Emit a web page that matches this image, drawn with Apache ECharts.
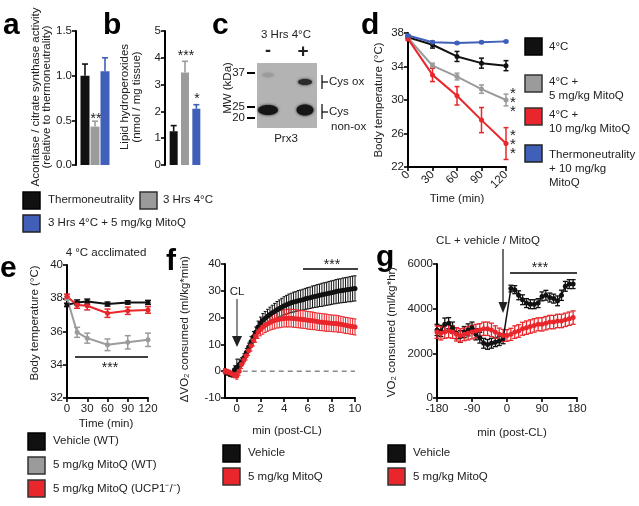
<!DOCTYPE html>
<html>
<head>
<meta charset="utf-8">
<script src="https://cdn.jsdelivr.net/npm/echarts@6/dist/echarts.min.js"></script>
<style>html,body{margin:0;padding:0;background:#fff}#c{width:639px;height:506px}</style>
</head>
<body>
<div id="c"></div>
<script>
// ---------- DATA ----------
// panel a
const aCats = ['Thermoneutrality', '3 Hrs 4°C', '3 Hrs 4°C + 5 mg/kg MitoQ'];
const aValues = [1.0, 0.43, 1.05];
const aErr = [0.13, 0.06, 0.15];
const aTicks = [0, 0.5, 1.0, 1.5];
// panel b
const bValues = [1.26, 3.45, 2.1];
const bErr = [0.21, 0.42, 0.15];
// panel d
const dTime = [0, 30, 60, 90, 120];
const d4C = [37.5, 36.6, 35.2, 34.4, 34.1];
const d4CErr = [0.2, 0.4, 0.6, 0.6, 0.6];
const d5Mito = [37.4, 34.1, 32.8, 31.3, 30.0];
const d5MitoErr = [0.2, 0.3, 0.4, 0.5, 0.7];
const d10Mito = [37.3, 33.0, 30.5, 27.6, 24.8];
const d10MitoErr = [0.2, 0.8, 1.1, 1.5, 1.9];
const dTN = [37.7, 36.9, 36.8, 36.9, 37.0];
const dTNErr = [0.1, 0.1, 0.1, 0.1, 0.1];
// panel e
const eTime = [0, 15, 30, 60, 90, 120];
const eVeh = [37.6, 37.75, 37.8, 37.65, 37.75, 37.75];
const eVehErr = [0.1, 0.15, 0.15, 0.12, 0.1, 0.12];
const eMitoWT = [38.0, 35.95, 35.6, 35.2, 35.35, 35.5];
const eMitoWTErr = [0.1, 0.3, 0.3, 0.35, 0.4, 0.4];
const eMitoKO = [38.1, 37.6, 37.55, 37.1, 37.25, 37.3];
const eMitoKOErr = [0.15, 0.2, 0.25, 0.25, 0.22, 0.2];
// panel f
const fTime = [-1.0,-0.8,-0.6,-0.4,-0.2,0.0,0.2,0.4,0.6,0.8,1.0,1.2,1.4,1.6,1.8,2.0,2.2,2.4,2.6,2.8,3.0,3.2,3.4,3.6,3.8,4.0,4.2,4.4,4.6,4.8,5.0,5.2,5.4,5.6,5.8,6.0,6.2,6.4,6.6,6.8,7.0,7.2,7.4,7.6,7.8,8.0,8.2,8.4,8.6,8.8,9.0,9.2,9.4,9.6,9.8,10.0];
const fVeh = [0.0,-0.5,-1.0,-1.2,0.5,1.5,2.5,3.5,5.0,7.0,9.0,11.0,12.8,14.5,16.5,18.0,19.0,19.8,20.5,21.2,21.8,22.3,22.9,23.4,23.9,24.4,24.8,25.2,25.5,25.8,26.0,26.3,26.5,26.7,27.0,27.2,27.4,27.7,27.9,28.1,28.3,28.5,28.7,28.9,29.1,29.3,29.5,29.7,29.9,30.0,30.2,30.3,30.5,30.6,30.8,30.9];
const fVehErr = [1.0,1.0,1.0,1.0,1.5,3.0,2.0,1.5,1.5,1.5,1.5,2.0,2.0,2.0,2.2,2.2,2.5,2.5,2.6,2.7,2.8,3.0,3.1,3.2,3.3,3.4,3.5,3.6,3.6,3.7,3.7,3.8,3.8,3.9,3.9,4.0,4.0,4.1,4.1,4.2,4.2,4.3,4.3,4.3,4.4,4.4,4.4,4.5,4.5,4.5,4.6,4.6,4.6,4.7,4.7,4.7];
const fMito = [0.0,-0.3,-0.6,-1.0,-1.5,-1.8,0.0,2.5,4.2,5.8,7.6,9.5,11.5,13.0,14.5,15.6,16.4,17.1,17.7,18.2,18.6,18.9,19.2,19.4,19.6,19.7,19.8,19.8,19.8,19.7,19.6,19.5,19.4,19.3,19.2,19.0,18.9,18.8,18.7,18.5,18.4,18.3,18.2,18.1,18.0,17.9,17.8,17.8,17.6,17.5,17.3,17.1,17.0,16.8,16.7,16.5];
const fMitoErr = [1.0,1.0,1.0,1.0,1.0,1.2,1.5,1.5,1.5,1.6,1.7,2.0,2.1,2.2,2.3,2.4,2.6,2.7,2.8,2.9,3.0,3.1,3.1,3.2,3.2,3.2,3.3,3.3,3.3,3.3,3.3,3.3,3.3,3.3,3.3,3.3,3.3,3.3,3.2,3.2,3.2,3.2,3.2,3.2,3.1,3.1,3.1,3.1,3.1,3.0,3.0,3.0,3.0,3.0,3.0,3.0];
const fZeroLine = [[0.5, 0], [10, 0]];
const fTickValues = [0, 2, 4, 6, 8, 10];
// panel g
const gTimeVeh = [-180,-170,-160,-150,-140,-130,-120,-110,-100,-90,-80,-70,-60,-50,-40,-30,-20,-10,10,20,30,40,50,60,70,80,90,100,110,120,130,140,150,160,170];
const gVeh = [3050,3000,3300,3350,3150,2900,2750,2950,3050,3150,2850,2700,2450,2400,2450,2500,2550,2650,4900,4850,4600,4400,4250,4200,4200,4250,4550,4600,4500,4450,4350,4600,5000,5100,5100];
const gVehErr = [250,250,280,250,250,250,260,250,270,250,250,240,220,220,220,200,200,220,150,180,200,220,200,200,200,200,200,220,200,200,220,230,220,200,200];
const gTimeMito = [-180,-170,-160,-150,-140,-130,-120,-110,-100,-90,-80,-70,-60,-50,-40,-30,-20,-10,0,10,20,30,40,50,60,70,80,90,100,110,120,130,140,150,160,170];
const gMito = [2950,2900,2950,3000,2950,2850,2800,2850,2900,2950,3000,3050,3100,3100,3050,2950,2850,2800,2800,2850,2950,3000,3100,3150,3200,3250,3300,3300,3350,3400,3400,3450,3450,3500,3550,3600];
const gMitoErr = [280,300,280,300,280,300,300,280,300,300,300,280,300,300,300,280,280,270,260,270,280,280,290,300,300,300,290,300,300,300,300,300,300,300,300,300];

// ---------- STYLE ----------
const FONT = '"Liberation Sans", Arial, Helvetica, sans-serif';
const BLACK = '#111111', GRAY = '#9b9b9b', RED = '#e8262b', BLUE = '#3f5fb8';
const TXT = '#222';

function errRender(cap, color, lw) {
  return function (params, api) {
    const x = api.value(0), lo = api.value(1), hi = api.value(2);
    const p1 = api.coord([x, lo]), p2 = api.coord([x, hi]);
    const st = { stroke: color, lineWidth: lw };
    return { type: 'group', children: [
      { type: 'line', shape: { x1: p1[0], y1: p1[1], x2: p2[0], y2: p2[1] }, style: st },
      { type: 'line', shape: { x1: p1[0] - cap / 2, y1: p1[1], x2: p1[0] + cap / 2, y2: p1[1] }, style: st },
      { type: 'line', shape: { x1: p2[0] - cap / 2, y1: p2[1], x2: p2[0] + cap / 2, y2: p2[1] }, style: st }
    ]};
  };
}
function errSeries(idx, xs, ys, es, color, cap, lw, z) {
  return { type: 'custom', xAxisIndex: idx, yAxisIndex: idx, z: z || 3, clip: false,
    renderItem: errRender(cap, color, lw || 1.3),
    encode: { x: 0, y: [1, 2] },
    data: xs.map((x, i) => [x, ys[i] - es[i], ys[i] + es[i]]) };
}
function barErr(idx, vals, errs, colors) {
  return { type: 'custom', xAxisIndex: idx, yAxisIndex: idx, z: 1, clip: false,
    renderItem: function (params, api) {
      const i = api.value(0), lo = api.value(1), hi = api.value(2);
      const p1 = api.coord([i, lo]), p2 = api.coord([i, hi]);
      const st = { stroke: colors[params.dataIndex], lineWidth: 1.6 };
      return { type: 'group', children: [
        { type: 'line', shape: { x1: p1[0], y1: p1[1], x2: p2[0], y2: p2[1] }, style: st },
        { type: 'line', shape: { x1: p2[0] - 3, y1: p2[1], x2: p2[0] + 3, y2: p2[1] }, style: st }
      ]};
    },
    encode: { x: 0, y: [1, 2] },
    data: vals.map((v, i) => [i, v, v + errs[i]]) };
}
function lineSeries(idx, xs, ys, color, size, lw) {
  return { type: 'line', xAxisIndex: idx, yAxisIndex: idx, z: 4,
    data: xs.map((x, i) => [x, ys[i]]), symbol: 'circle', symbolSize: size,
    itemStyle: { color: color }, lineStyle: { color: color, width: lw }, clip: false };
}
const axLine = { show: true, onZero: false, lineStyle: { color: '#000', width: 2 } };
const axTick = { show: true, length: 4, lineStyle: { color: '#000', width: 1.6 } };
const axLab = { color: TXT, fontSize: 11.5, fontFamily: FONT, margin: 4 };
function yAx(idx, min, max, interval, extra) {
  return Object.assign({ type: 'value', gridIndex: idx, min: min, max: max, interval: interval,
    axisLine: axLine, axisTick: axTick, axisLabel: Object.assign({}, axLab), splitLine: { show: false } }, extra || {});
}
function xAx(idx, min, max, interval, extra) {
  return Object.assign({ type: 'value', gridIndex: idx, min: min, max: max, interval: interval,
    axisLine: axLine, axisTick: axTick, axisLabel: Object.assign({}, axLab, { margin: 5 }), splitLine: { show: false } }, extra || {});
}

// ---------- GRAPHICS HELPERS ----------
function T(x, y, text, o) {
  o = o || {};
  return { type: 'text', x: x, y: y, rotation: o.rot || 0, z: 10,
    style: { text: text, fill: o.fill || TXT, fontSize: o.size || 11.5, fontWeight: o.weight || 'normal',
      fontFamily: FONT, align: o.align || 'left', verticalAlign: o.va || 'middle', lineHeight: o.lh || 14 } };
}
function SQ(x, y, fill, stroke) {
  return { type: 'rect', shape: { x: x, y: y, width: 17, height: 17 }, z: 10,
    style: { fill: fill, stroke: stroke || '#222', lineWidth: 1.5 } };
}
function L(x1, y1, x2, y2, color, w) {
  return { type: 'line', shape: { x1: x1, y1: y1, x2: x2, y2: y2 }, z: 10, style: { stroke: color || '#000', lineWidth: w || 1.5 } };
}
function TRI(pts, color) {
  return { type: 'polygon', shape: { points: pts }, z: 10, style: { fill: color || '#000' } };
}
function ELL(cx, cy, rx, ry, fill, blur) {
  return { type: 'ellipse', shape: { cx: cx, cy: cy, rx: rx, ry: ry }, z: 11,
    style: { fill: fill, shadowBlur: blur || 0, shadowColor: fill } };
}
const LET = { size: 30, weight: 'bold', fill: '#000', va: 'bottom' };
const ROT = Math.PI / 2;

const graphics = [
  // panel letters
  T(3, 33, 'a', LET), T(103, 33, 'b', LET), T(212, 33, 'c', LET), T(361, 33, 'd', LET),
  T(0, 276, 'e', LET), T(166, 269, 'f', LET), T(376, 265, 'g', LET),
  // a / b axis titles
  T(41, 97, 'Aconitase / citrate synthase activity\n(relative to thermoneutrality)', { rot: ROT, align: 'center', size: 11.5, lh: 11 }),
  T(131, 97, 'Lipid hydroperoxides\n(nmol / mg tissue)', { rot: ROT, align: 'center', size: 11.5, lh: 12 }),
  T(96, 119, '**', { align: 'center', size: 14 }),
  T(186, 56, '***', { align: 'center', size: 14 }),
  T(197, 99, '*', { align: 'center', size: 14 }),
  // a/b legend
  SQ(23, 192, BLACK, '#000'), T(48, 200, 'Thermoneutrality'),
  SQ(140, 192, GRAY, '#333'), T(163, 200, '3 Hrs 4°C'),
  SQ(23, 215, BLUE, '#222'), T(48, 223, '3 Hrs 4°C + 5 mg/kg MitoQ'),
  // panel c blot
  T(286, 35, '3 Hrs 4°C', { align: 'center', size: 11.5 }),
  T(268, 51, '-', { align: 'center', size: 18, weight: 'bold' }),
  T(303, 52, '+', { align: 'center', size: 19, weight: 'bold' }),
  { type: 'rect', shape: { x: 257, y: 63, width: 60, height: 65 }, z: 10, style: { fill: '#b3b3b3' } },
  ELL(268, 75, 6, 2.2, '#9c9c9c', 3),
  ELL(305, 82, 7, 3, '#2b2b2b', 3),
  ELL(268, 110, 10, 5, '#151515', 3),
  ELL(305, 110, 8.5, 5.5, '#151515', 3),
  L(247, 73, 255, 73, '#000', 2), L(247, 107, 255, 107, '#000', 2), L(247, 118, 255, 118, '#000', 2),
  T(245, 73, '37', { align: 'right' }), T(245, 107, '25', { align: 'right' }), T(245, 118, '20', { align: 'right' }),
  T(228, 88, 'MW (kDa)', { rot: ROT, align: 'center' }),
  L(322, 75, 322, 89, '#000', 1.2), L(322, 82, 328, 82, '#000', 1.2), T(329, 82, 'Cys ox'),
  L(322, 104, 322, 119, '#000', 1.2), L(322, 112, 328, 112, '#000', 1.2), T(329, 112, 'Cys'), T(331, 127, 'non-ox'),
  T(286, 139, 'Prx3', { align: 'center' }),
  // panel d
  T(379, 100, 'Body temperature (°C)', { rot: ROT, align: 'center' }),
  T(457, 199, 'Time (min)', { align: 'center' }),
  T(513, 103, '*\n*\n*', { align: 'center', size: 15, lh: 9 }),
  T(513, 145, '*\n*\n*', { align: 'center', size: 15, lh: 9 }),
  SQ(525, 38, BLACK, '#000'), T(549, 47, '4°C'),
  SQ(525, 75, GRAY, '#333'), T(549, 89, '4°C +\n5 mg/kg MitoQ'),
  SQ(525, 108, RED, '#333'), T(549, 122, '4°C +\n10 mg/kg MitoQ'),
  SQ(525, 145, BLUE, '#222'), T(549, 169, 'Thermoneutrality\n+ 10 mg/kg\nMitoQ'),
  // panel e
  T(106, 253, '4 °C acclimated', { align: 'center' }),
  T(35, 323, 'Body temperature (°C)', { rot: ROT, align: 'center' }),
  T(106, 424, 'Time (min)', { align: 'center' }),
  L(75, 357, 148, 357, '#000', 1.5),
  T(110, 368, '***', { align: 'center', size: 14 }),
  SQ(28, 433, BLACK, '#000'), T(53, 441, 'Vehicle (WT)'),
  SQ(28, 457, GRAY, '#333'), T(53, 465, '5 mg/kg MitoQ (WT)'),
  SQ(28, 480, RED, '#333'), T(53, 489, '5 mg/kg MitoQ (UCP1⁻/⁻)'),
  // panel f
  T(185, 329, 'ΔVO₂ consumed (ml/kg*min)', { rot: ROT, align: 'center' }),
  T(287, 431, 'min (post-CL)', { align: 'center' }),
  T(237, 292, 'CL', { align: 'center' }),
  L(237, 299, 237, 338, '#666', 1.5),
  TRI([[232, 336], [242, 336], [237, 347]], '#222'),
  L(303, 269, 358, 269, '#000', 1.5),
  T(332, 265, '***', { align: 'center', size: 14 }),
  SQ(223, 445, BLACK, '#000'), T(248, 453, 'Vehicle'),
  SQ(223, 468, RED, '#333'), T(248, 477, '5 mg/kg MitoQ'),
  // panel g
  T(488, 241, 'CL + vehicle / MitoQ', { align: 'center' }),
  T(392, 332, 'VO₂ consumed (ml/kg*hr)', { rot: ROT, align: 'center' }),
  T(512, 433, 'min (post-CL)', { align: 'center' }),
  L(503, 249, 503, 305, '#222', 1.3),
  TRI([[498.5, 302], [507.5, 302], [503, 313]], '#222'),
  L(510, 273, 577, 273, '#000', 1.5),
  T(540, 268, '***', { align: 'center', size: 14 }),
  SQ(388, 445, BLACK, '#000'), T(413, 453, 'Vehicle'),
  SQ(388, 468, RED, '#333'), T(413, 477, '5 mg/kg MitoQ')
];

// ---------- OPTION ----------
const option = {
  animation: false,
  backgroundColor: '#fff',
  textStyle: { fontFamily: FONT },
  grid: [
    { left: 80, top: 31, width: 30, height: 134 },
    { left: 168, top: 31, width: 34, height: 134 },
    { left: 408, top: 33, width: 98, height: 134 },
    { left: 67, top: 265, width: 81, height: 133 },
    { left: 225, top: 264, width: 130, height: 134 },
    { left: 437, top: 264, width: 140, height: 134 }
  ],
  xAxis: [
    { type: 'category', gridIndex: 0, data: aCats, axisLine: { show: false }, axisTick: { show: false }, axisLabel: { show: false } },
    { type: 'category', gridIndex: 1, data: aCats, axisLine: { show: false }, axisTick: { show: false }, axisLabel: { show: false } },
    xAx(2, 0, 120, 30, { axisLabel: Object.assign({}, axLab, { rotate: 45, margin: 6 }) }),
    xAx(3, 0, 120, 30),
    xAx(4, -1, 10, 1, { axisLabel: Object.assign({}, axLab, { margin: 5, customValues: fTickValues }), axisTick: Object.assign({}, axTick, { customValues: fTickValues }) }),
    xAx(5, -180, 180, 90)
  ],
  yAxis: [
    yAx(0, 0, 1.5, 0.5, { offset: 4, axisLabel: Object.assign({}, axLab, { formatter: v => v.toFixed(1) }) }),
    yAx(1, 0, 5, 1, { offset: 3 }),
    yAx(2, 22, 38, 4),
    yAx(3, 32, 40, 2),
    yAx(4, -10, 40, 10),
    yAx(5, 0, 6000, 2000, { axisLabel: Object.assign({}, axLab, { formatter: v => String(v) }) })
  ],
  series: [
    // a
    barErr(0, aValues, aErr, [BLACK, GRAY, BLUE]),
    { type: 'bar', xAxisIndex: 0, yAxisIndex: 0, barWidth: 9, z: 2,
      data: aValues.map((v, i) => ({ value: v, itemStyle: { color: [BLACK, GRAY, BLUE][i] } })) },
    // b
    barErr(1, bValues, bErr, [BLACK, GRAY, BLUE]),
    { type: 'bar', xAxisIndex: 1, yAxisIndex: 1, barWidth: 8, z: 2,
      data: bValues.map((v, i) => ({ value: v, itemStyle: { color: [BLACK, GRAY, BLUE][i] } })) },
    // d
    errSeries(2, dTime, d4C, d4CErr, BLACK, 5, 1.5),
    errSeries(2, dTime, d5Mito, d5MitoErr, GRAY, 5, 1.5),
    errSeries(2, dTime, d10Mito, d10MitoErr, RED, 5, 1.5),
    errSeries(2, dTime, dTN, dTNErr, BLUE, 5, 1.5),
    lineSeries(2, dTime, d4C, BLACK, 5, 2),
    lineSeries(2, dTime, d5Mito, GRAY, 5, 2),
    lineSeries(2, dTime, d10Mito, RED, 5, 2),
    lineSeries(2, dTime, dTN, BLUE, 5, 2),
    // e
    errSeries(3, eTime, eVeh, eVehErr, BLACK, 6, 1.5),
    errSeries(3, eTime, eMitoWT, eMitoWTErr, GRAY, 6, 1.5),
    errSeries(3, eTime, eMitoKO, eMitoKOErr, RED, 6, 1.5),
    lineSeries(3, eTime, eVeh, BLACK, 5, 2),
    lineSeries(3, eTime, eMitoWT, GRAY, 5, 2),
    lineSeries(3, eTime, eMitoKO, RED, 5, 2),
    // f
    { type: 'line', xAxisIndex: 4, yAxisIndex: 4, data: fZeroLine, symbol: 'none', z: 1,
      lineStyle: { color: '#8a8a8a', width: 1.5, type: [5, 4] } },
    errSeries(4, fTime, fVeh, fVehErr, BLACK, 3, 1),
    lineSeries(4, fTime, fVeh, BLACK, 5, 1),
    errSeries(4, fTime, fMito, fMitoErr, RED, 3, 1),
    lineSeries(4, fTime, fMito, RED, 5, 1),
    // g
    errSeries(5, gTimeVeh, gVeh, gVehErr, BLACK, 5, 1.3),
    lineSeries(5, gTimeVeh, gVeh, BLACK, 5, 1.5),
    errSeries(5, gTimeMito, gMito, gMitoErr, RED, 5, 1.3),
    lineSeries(5, gTimeMito, gMito, RED, 5, 1.5)
  ],
  graphic: graphics
};
const chart = echarts.init(document.getElementById('c'), null, { renderer: 'canvas' });
chart.setOption(option);
</script>
</body>
</html>
